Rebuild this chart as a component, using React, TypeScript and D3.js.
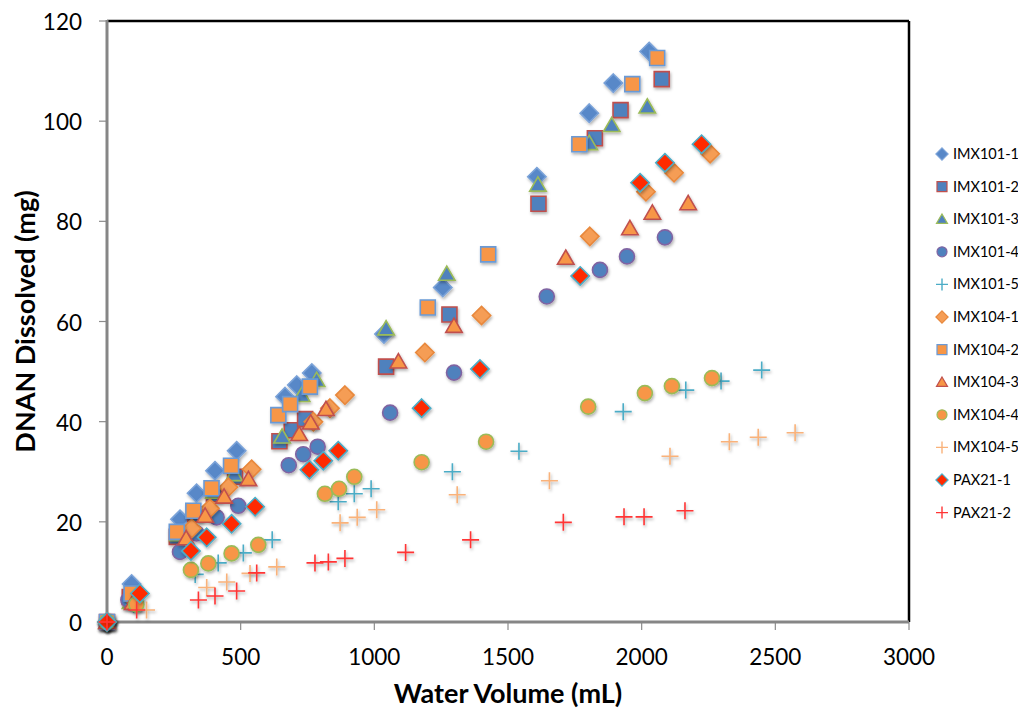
import React, { useEffect, useRef } from 'react';
import * as d3 from 'd3';

// values: [water volume mL, DNAN dissolved mg]
const imx101_1 = [[0, 0], [92, 7.6], [273, 20.5], [335, 25.7], [404, 30.2], [485, 34.2], [666, 45.0], [710, 47.3], [766, 49.7], [1036, 57.5], [1256, 66.8], [1608, 88.9], [1804, 101.6], [1894, 107.6], [2028, 113.9]];
const imx101_2 = [[0, 0], [85, 5.0], [261, 17.0], [330, 21.5], [400, 25.5], [479, 29.0], [645, 36.1], [691, 38.3], [741, 40.5], [1044, 51.0], [1281, 61.4], [1614, 83.5], [1825, 96.6], [1921, 102.2], [2075, 108.4]];
const imx101_3 = [[0, 0], [88, 4.0], [265, 17.5], [330, 22.0], [400, 26.0], [475, 29.5], [655, 37.0], [728, 45.3], [784, 48.3], [1044, 58.6], [1271, 69.5], [1612, 87.3], [1804, 95.6], [1888, 99.2], [2021, 102.9]];
const imx101_4 = [[0, 0], [80, 4.4], [273, 14.0], [335, 17.7], [410, 20.9], [491, 23.2], [680, 31.3], [734, 33.5], [788, 35.0], [1059, 41.8], [1298, 49.8], [1645, 65.0], [1844, 70.3], [1945, 73.0], [2087, 76.8]];
const imx101_5 = [[0, 0], [100, 3.5], [330, 9.5], [416, 11.8], [510, 13.8], [618, 16.4], [865, 24.0], [925, 25.6], [988, 26.6], [1292, 30.0], [1541, 34.1], [1931, 42.0], [2165, 46.3], [2297, 48.1], [2449, 50.3]];
const imx104_1 = [[0, 0], [100, 4.5], [317, 18.7], [385, 22.7], [454, 26.9], [541, 30.5], [772, 40.0], [834, 42.7], [890, 45.3], [1189, 53.8], [1401, 61.2], [1806, 77.0], [2016, 85.9], [2121, 89.7], [2256, 93.5]];
const imx104_2 = [[0, 0], [92, 5.7], [261, 18.0], [323, 22.2], [391, 26.7], [464, 31.2], [641, 41.3], [685, 43.5], [759, 47.0], [1200, 62.8], [1426, 73.4], [1767, 95.4], [1965, 107.4], [2058, 112.6]];
const imx104_3 = [[0, 0], [96, 3.8], [296, 16.7], [367, 21.2], [438, 25.0], [529, 28.5], [719, 37.5], [762, 39.8], [819, 42.5], [1090, 52.0], [1298, 59.1], [1716, 72.7], [1956, 78.6], [2040, 81.7], [2174, 83.6]];
const imx104_4 = [[0, 0], [110, 3.5], [314, 10.4], [379, 11.7], [466, 13.7], [566, 15.4], [815, 25.6], [868, 26.6], [925, 29.0], [1177, 31.9], [1418, 36.0], [1800, 43.0], [2012, 45.7], [2113, 47.1], [2263, 48.7]];
const imx104_5 = [[0, 0], [148, 2.4], [373, 6.9], [448, 8.0], [535, 9.7], [635, 11.0], [872, 19.8], [936, 20.9], [1009, 22.4], [1310, 25.4], [1655, 28.2], [2106, 33.1], [2328, 36.0], [2436, 36.9], [2574, 37.8]];
const pax21_1 = [[0, 0], [123, 5.7], [314, 14.2], [373, 16.9], [466, 19.6], [554, 23.0], [757, 30.4], [809, 32.2], [865, 34.2], [1177, 42.7], [1395, 50.5], [1770, 69.1], [1994, 87.7], [2087, 91.7], [2224, 95.4]];
const pax21_2 = [[0, 0], [111, 2.4], [342, 4.4], [404, 5.2], [485, 6.2], [560, 9.8], [778, 11.8], [828, 12.0], [890, 12.7], [1117, 13.9], [1360, 16.4], [1707, 19.9], [1934, 21.0], [2009, 21.0], [2162, 22.2]];

const xTicks = [0, 500, 1000, 1500, 2000, 2500, 3000];
const yTicks = [0, 20, 40, 60, 80, 100, 120];

const series = [
    { name: 'IMX101-1', data: imx101_1, shape: 'diamond', fill: '#5888C8', stroke: '#7AA2D8' },
    { name: 'IMX101-2', data: imx101_2, shape: 'square', fill: '#4F81BD', stroke: '#C0504D' },
    { name: 'IMX101-3', data: imx101_3, shape: 'triangle', fill: '#4F81BD', stroke: '#9BBB59' },
    { name: 'IMX101-4', data: imx101_4, shape: 'circle', fill: '#4F81BD', stroke: '#8064A2' },
    { name: 'IMX101-5', data: imx101_5, shape: 'plus', fill: 'none', stroke: '#4BACC6' },
    { name: 'IMX104-1', data: imx104_1, shape: 'diamond', fill: '#F59D55', stroke: '#E8883C' },
    { name: 'IMX104-2', data: imx104_2, shape: 'square', fill: '#F79646', stroke: '#6A9AD6' },
    { name: 'IMX104-3', data: imx104_3, shape: 'triangle', fill: '#F79646', stroke: '#C0504D' },
    { name: 'IMX104-4', data: imx104_4, shape: 'circle', fill: '#F79646', stroke: '#9BBB59' },
    { name: 'IMX104-5', data: imx104_5, shape: 'plus', fill: 'none', stroke: '#F9B27A' },
    { name: 'PAX21-1', data: pax21_1, shape: 'diamond', fill: '#FF2A00', stroke: '#4BACC6' },
    { name: 'PAX21-2', data: pax21_2, shape: 'plus', fill: 'none', stroke: '#FF3535' },
];

const W = 1018;
const H = 710;
const FONT = 'Lato, "Liberation Sans", sans-serif';

// marker path centred on 0,0; s is roughly the marker width
const markerPath = (shape, s) => {
    const h = s / 2;
    if (shape === 'diamond') {
        const d = h * 1.22;
        return `M0,${-d}L${d},0L0,${d}L${-d},0Z`;
    }
    if (shape === 'square') return `M${-h},${-h}H${h}V${h}H${-h}Z`;
    if (shape === 'triangle') return `M0,${-h * 1.05}L${h * 1.1},${h * 0.85}L${-h * 1.1},${h * 0.85}Z`;
    if (shape === 'circle') return d3.arc()({ innerRadius: 0, outerRadius: h, startAngle: 0, endAngle: 2 * Math.PI });
    return `M${-h},0H${h}M0,${-h}V${h}`;
};

const App = () => {
    const svgRef = useRef(null);

    useEffect(() => {
        const svg = d3.select(svgRef.current);
        svg.selectAll('*').remove();

        const x = d3.scaleLinear().domain([0, 3000]).range([107, 909]);
        const y = d3.scaleLinear().domain([0, 120]).range([622, 21]);

        const defs = svg.append('defs');
        const shadow = defs.append('filter').attr('id', 'shadow').attr('x', '-50%').attr('y', '-50%').attr('width', '200%').attr('height', '200%');
        shadow.append('feDropShadow').attr('dx', 1).attr('dy', 2).attr('stdDeviation', 1.6).attr('flood-color', '#000').attr('flood-opacity', 0.3);

        svg.append('rect').attr('width', W).attr('height', H).attr('fill', '#fff');

        // frame: grey axes left/bottom, black top/right
        svg.append('line').attr('x1', x(0)).attr('x2', x(3000)).attr('y1', y(120)).attr('y2', y(120)).attr('stroke', '#000').attr('stroke-width', 2.5);
        svg.append('line').attr('x1', x(3000)).attr('x2', x(3000)).attr('y1', y(120)).attr('y2', y(0)).attr('stroke', '#000').attr('stroke-width', 2.5);

        const yAxis = svg.append('g');
        yAxis.selectAll('line.tick').data(yTicks).enter().append('line')
            .attr('x1', x(0) - 8).attr('x2', x(0)).attr('y1', (d) => y(d)).attr('y2', (d) => y(d))
            .attr('stroke', '#8c8c8c').attr('stroke-width', 1.2);
        yAxis.selectAll('text').data(yTicks).enter().append('text')
            .attr('x', 82).attr('y', (d) => y(d) + 9)
            .attr('text-anchor', 'end').style('font-family', FONT).style('font-size', '22.5px').style('fill', '#000')
            .text((d) => d);

        const xAxis = svg.append('g');
        xAxis.selectAll('line.tick').data(xTicks).enter().append('line')
            .attr('x1', (d) => x(d)).attr('x2', (d) => x(d)).attr('y1', y(0)).attr('y2', y(0) + 8)
            .attr('stroke', '#8c8c8c').attr('stroke-width', 1.2);
        xAxis.selectAll('text').data(xTicks).enter().append('text')
            .attr('x', (d) => x(d)).attr('y', 665)
            .attr('text-anchor', 'middle').style('font-family', FONT).style('font-size', '22.5px').style('fill', '#000')
            .text((d) => d);

        svg.append('line').attr('x1', x(0)).attr('x2', x(0)).attr('y1', y(120) - 1).attr('y2', y(0) + 1).attr('stroke', '#868686').attr('stroke-width', 3);
        svg.append('line').attr('x1', x(0) - 1).attr('x2', x(3000)).attr('y1', y(0)).attr('y2', y(0)).attr('stroke', '#868686').attr('stroke-width', 3);

        // axis titles
        svg.append('text').attr('x', 508).attr('y', 703).attr('text-anchor', 'middle')
            .style('font-family', FONT).style('font-weight', 'bold').style('font-size', '27px')
            .text('Water Volume (mL)');
        svg.append('text').attr('transform', `translate(35, ${y(60)}) rotate(-90)`).attr('text-anchor', 'middle')
            .style('font-family', FONT).style('font-weight', 'bold').style('font-size', '27px')
            .text('DNAN Dissolved (mg)');

        // markers
        series.forEach((s) => {
            const g = svg.append('g').attr('filter', 'url(#shadow)');
            const isPlus = s.shape === 'plus';
            g.selectAll('path').data(s.data).enter().append('path')
                .attr('transform', (d) => `translate(${x(d[0])},${y(d[1])})`)
                .attr('d', markerPath(s.shape, isPlus ? 17 : 15))
                .attr('fill', s.fill)
                .attr('stroke', s.stroke)
                .attr('stroke-width', isPlus ? 1.6 : 1.6);
        });

        // legend
        const legend = svg.append('g');
        series.forEach((s, i) => {
            const ly = 154 + i * 32.6;
            const isPlus = s.shape === 'plus';
            legend.append('path')
                .attr('transform', `translate(942,${ly})`)
                .attr('d', markerPath(s.shape, isPlus ? 12 : 10))
                .attr('fill', s.fill)
                .attr('stroke', s.stroke)
                .attr('stroke-width', isPlus ? 1.4 : 1.2);
            legend.append('text')
                .attr('x', 953).attr('y', ly + 5)
                .style('font-family', FONT).style('font-size', '14.5px').style('fill', '#000')
                .text(s.name);
        });
    }, []);

    return <svg ref={svgRef} width={W} height={H} style={{ position: 'absolute', left: 0, top: 0 }} />;
};

export default App;
